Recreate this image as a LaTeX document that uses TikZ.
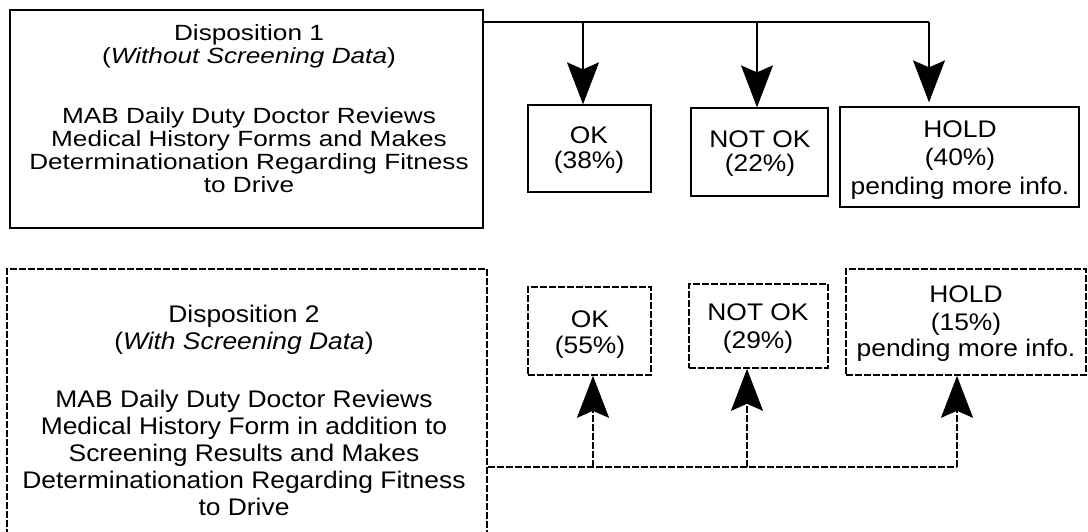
\documentclass[tikz,border=0pt]{standalone}
\usepackage{fontspec}
\setmainfont{Liberation Sans}[FakeStretch=1.1]
\newfontfamily\widefont{Liberation Sans}[FakeStretch=1.19]
\usetikzlibrary{arrows.meta,fit}
\begin{document}
\begin{tikzpicture}[x=1pt,y=-1pt,
  box/.style={draw, line width=1.3pt, inner sep=0pt},
  dbox/.style={box, line width=1.6pt, dash pattern=on 7pt off 2pt},
  txt/.style={anchor=base, inner sep=0pt, font=\fontsize{24}{26}\selectfont},
  wtxt/.style={anchor=base, inner sep=0pt, font=\widefont\fontsize{22}{23}\selectfont},
  conn/.style={line width=1.1pt},
  dconn/.style={line width=1.6pt, dash pattern=on 7pt off 2pt},
  tip/.style={-{Stealth[length=42pt,width=32pt,inset=7pt]}},
]
\useasboundingbox (0,0) rectangle (1088,531);

% ---- Disposition 1 (solid)
\node[box, fit={(10,10) (483,228)}] (d1) {};
\node[wtxt] (d1a) at (249,40)  {Disposition 1};
\node[wtxt] (d1b) at (249,63)  {(\textit{Without Screening Data})};
\node[wtxt] (d1c) at (249,123) {MAB Daily Duty Doctor Reviews};
\node[wtxt] (d1d) at (249,146) {Medical History Forms and Makes};
\node[wtxt] (d1e) at (249,169) {Determinationation Regarding Fitness};
\node[wtxt] (d1f) at (249,192) {to Drive};

\node[box, fit={(528,105) (651,192)}] (ok1) {};
\node[txt] (ok1a) at (589,143) {OK};
\node[txt] (ok1b) at (589,168) {(38\%)};

\node[box, fit={(691,108) (828,196)}] (no1) {};
\node[txt] (no1a) at (760,147) {NOT OK};
\node[txt] (no1b) at (760,171) {(22\%)};

\node[box, fit={(840,107) (1079,207)}] (ho1) {};
\node[txt] (ho1a) at (960,137) {HOLD};
\node[txt] (ho1b) at (960,165) {(40\%)};
\node[txt] (ho1c) at (960,194) {pending more info.};

\coordinate (j1) at (929,22);
\coordinate (a1) at (583,22);
\coordinate (b1) at (757,22);
\draw[conn] (d1.east |- j1) -- (j1);
\draw[conn,tip] (a1) -- (a1 |- ok1.north);
\draw[conn,tip] (b1) -- (b1 |- no1.north);
\draw[conn,tip,shorten >=4pt] (j1) -- (j1 |- ho1.north);

% ---- Disposition 2 (dashed)
\node[dbox, fit={(7,269) (487,570)}] (d2) {};
\node[txt] (d2a) at (244,322) {Disposition 2};
\node[txt] (d2b) at (244,349) {(\textit{With Screening Data})};
\node[txt] (d2c) at (244,407) {MAB Daily Duty Doctor Reviews};
\node[txt] (d2d) at (244,434) {Medical History Form in addition to};
\node[txt] (d2e) at (244,461) {Screening Results and Makes};
\node[txt] (d2f) at (244,488) {Determinationation Regarding Fitness};
\node[txt] (d2g) at (244,515) {to Drive};

\node[dbox, fit={(528,287) (651,375)}] (ok2) {};
\node[txt] (ok2a) at (590,327) {OK};
\node[txt] (ok2b) at (590,353) {(55\%)};

\node[dbox, fit={(689,284) (828,368)}] (no2) {};
\node[txt] (no2a) at (758,320) {NOT OK};
\node[txt] (no2b) at (758,348) {(29\%)};

\node[dbox, fit={(846,269) (1086,375)}] (ho2) {};
\node[txt] (ho2a) at (966,302) {HOLD};
\node[txt] (ho2b) at (966,330) {(15\%)};
\node[txt] (ho2c) at (966,356) {pending more info.};

\coordinate (j2) at (957,467);
\coordinate (a2) at (593,467);
\coordinate (b2) at (747,467);
\draw[dconn] (d2.east |- j2) -- (j2);
\draw[dconn,tip] (a2) -- (a2 |- ok2.south);
\draw[dconn,tip] (b2) -- (b2 |- no2.south);
\draw[dconn,tip] (j2) -- (j2 |- ho2.south);
\end{tikzpicture}
\end{document}
